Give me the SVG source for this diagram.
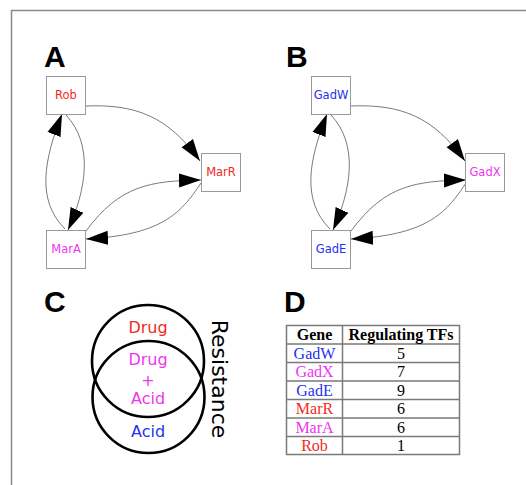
<svg xmlns="http://www.w3.org/2000/svg" width="526" height="485" viewBox="0 0 526 485">
<style>
.frame{fill:none;stroke:#8a8a8a;stroke-width:1.5}
.node rect{fill:#fff;stroke:#9a9a9a;stroke-width:1}
.node text{font-family:"DejaVu Sans",sans-serif;font-size:11.5px;text-anchor:middle}
.edge{fill:none;stroke:#7a7a7a;stroke-width:1;marker-end:url(#ah)}
.panel{font-family:"Liberation Sans",Arial,sans-serif;font-weight:bold;font-size:30px;fill:#000}
.red{fill:#f02a22}.mag{fill:#ee36ee}.blue{fill:#2432ee}
.venn{fill:none;stroke:#000;stroke-width:2.6}
.vt{font-family:"DejaVu Sans",sans-serif;font-size:16px;text-anchor:middle}
.tl{stroke:#7a7a7a;stroke-width:1.5;fill:none}
.tt{font-family:"Liberation Serif","Times New Roman",serif;font-size:16px;text-anchor:middle}
.th{font-weight:bold;fill:#000}
</style>
<defs>
<marker id="ah" markerUnits="userSpaceOnUse" markerWidth="24" markerHeight="16" viewBox="0 0 24 16" refX="22" refY="8" orient="auto">
<path d="M0,1 L22,8 L0,15 z" fill="#000"/>
</marker>
</defs>
<path class="frame" d="M11.5,485 V10.5 H526"/>

<text class="panel" x="44" y="67">A</text>
<text class="panel" x="286" y="67">B</text>
<text class="panel" x="44" y="312">C</text>
<text class="panel" x="284" y="312">D</text>

<g id="connectors">
<path class="edge" d="M86,106 C135,104 168,116 200,161"/>
<path class="edge" d="M65,229 C36,200 44,160 62,114"/>
<path class="edge" d="M66,115 C94,145 86,190 68,230"/>
<path class="edge" d="M86,231 C120,185 150,181 201,180"/>
<path class="edge" d="M201,183 C180,215 160,235 86,239"/>
<path class="edge" d="M351,106 C400,104 433,116 465,161"/>
<path class="edge" d="M330,229 C301,200 309,160 327,114"/>
<path class="edge" d="M331,115 C359,145 351,190 333,230"/>
<path class="edge" d="M351,231 C385,185 415,181 466,180"/>
<path class="edge" d="M466,183 C445,215 425,235 351,239"/>
</g>

<g id="rob" class="node"><rect x="46.5" y="76.5" width="39" height="38"/><text class="red" x="66" y="99">Rob</text></g>
<g id="marr" class="node"><rect x="201.5" y="153.5" width="39" height="38"/><text class="red" x="221" y="176">MarR</text></g>
<g id="mara" class="node"><rect x="46.5" y="230.5" width="39" height="38"/><text class="mag" x="66" y="253">MarA</text></g>
<g id="gadw" class="node"><rect x="311.5" y="76.5" width="39" height="38"/><text class="blue" x="331" y="99">GadW</text></g>
<g id="gadx" class="node"><rect x="465.5" y="153.5" width="39" height="38"/><text class="mag" x="485" y="176">GadX</text></g>
<g id="gade" class="node"><rect x="311.5" y="230.5" width="39" height="38"/><text class="blue" x="331" y="253">GadE</text></g>

<g id="venn">
<circle class="venn" cx="148" cy="361" r="56"/>
<circle class="venn" cx="148.5" cy="397" r="56"/>
<text class="vt red" x="148" y="333">Drug</text>
<text class="vt mag" x="148" y="365">Drug</text>
<text class="vt mag" x="148" y="386">+</text>
<text class="vt mag" x="148" y="404">Acid</text>
<text class="vt blue" x="148" y="437">Acid</text>
<text font-family="DejaVu Sans,sans-serif" font-size="22" text-anchor="middle" transform="translate(212,379) rotate(90)">Resistance</text>
</g>

<g id="table">
<rect class="tl" x="286.5" y="325.5" width="173" height="129"/>
<path class="tl" d="M342.5,325.5 V454.5 M286.5,344 H459.5 M286.5,362.5 H459.5 M286.5,381 H459.5 M286.5,399.5 H459.5 M286.5,418 H459.5 M286.5,436.5 H459.5"/>
<text class="tt th" x="314.5" y="340">Gene</text>
<text class="tt th" x="401" y="340">Regulating TFs</text>
<text class="tt blue" x="314.5" y="358.5">GadW</text><text class="tt" x="401" y="358.5">5</text>
<text class="tt mag" x="314.5" y="377">GadX</text><text class="tt" x="401" y="377">7</text>
<text class="tt blue" x="314.5" y="395.5">GadE</text><text class="tt" x="401" y="395.5">9</text>
<text class="tt red" x="314.5" y="414">MarR</text><text class="tt" x="401" y="414">6</text>
<text class="tt mag" x="314.5" y="432.5">MarA</text><text class="tt" x="401" y="432.5">6</text>
<text class="tt red" x="314.5" y="451">Rob</text><text class="tt" x="401" y="451">1</text>
</g>
</svg>
